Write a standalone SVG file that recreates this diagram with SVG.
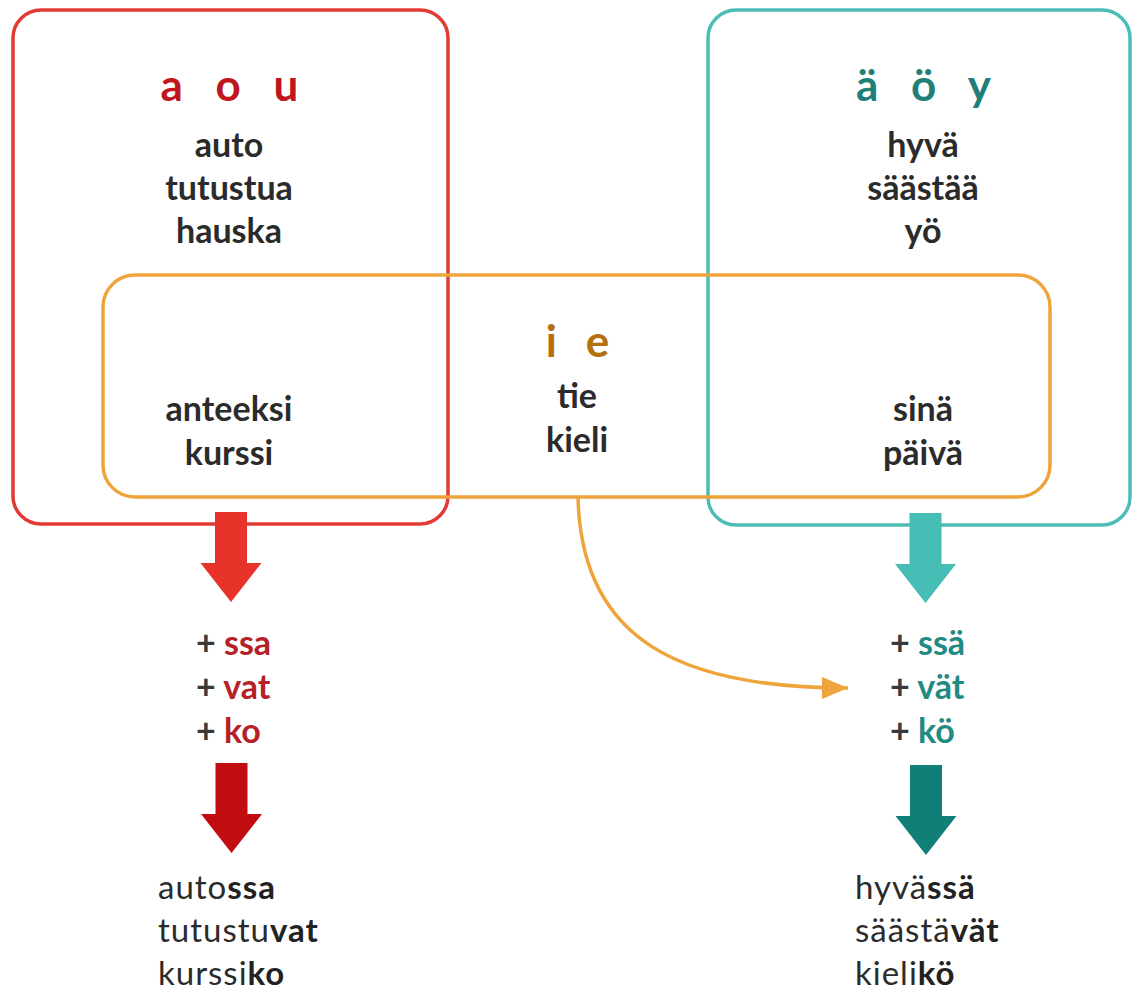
<svg xmlns="http://www.w3.org/2000/svg" width="1134" height="995" viewBox="0 0 1134 995">
<style>
  .box { fill: none; stroke-width: 3.5; }
  .red { stroke: #e23b35; }
  .teal { stroke: #4bbdb6; }
  .orange { stroke: #eea43a; }
  .hdr { font-family: Lato, "Open Sans", sans-serif; font-weight: 700; font-size: 44px; letter-spacing: 11px; text-anchor: middle; }
  .word { font-family: Lato, "Open Sans", sans-serif; font-weight: 700; font-size: 34px; fill: #2b2b2b; text-anchor: middle; }
  .suf { font-family: Lato, "Open Sans", sans-serif; font-weight: 700; font-size: 34px; fill: #3a3a3a; }
  .sr { fill: #b52127; }
  .st { fill: #238a83; }
  .res { font-family: Lato, "Open Sans", sans-serif; font-weight: 400; font-size: 33px; fill: #2b2b2b; letter-spacing: 1px; }
  .b { font-weight: 700; fill: #222222; }
  .conn { fill: none; stroke: #eea43a; stroke-width: 3.5; }
</style>
<defs>
  <path id="bigArrow" d="M -16 0 H 16 V 51 H 30.5 L 0 90 L -30.5 51 H -16 Z"/>
  <marker id="oHead" markerUnits="userSpaceOnUse" markerWidth="30" markerHeight="24" refX="26" refY="11" orient="auto">
    <path d="M 0 0 L 26 11 L 0 22 Z" fill="#eea43a"/>
  </marker>
</defs>

<g id="node-aou">
  <rect class="box red" x="13" y="10" width="435" height="514" rx="28" ry="28"/>
  <text class="hdr" x="235" y="101" fill="#c0161c">a o u</text>
  <text class="word" x="229" y="157">auto</text>
  <text class="word" x="229" y="200">tutustua</text>
  <text class="word" x="229" y="243">hauska</text>
  <text class="word" x="229" y="421">anteeksi</text>
  <text class="word" x="229" y="465">kurssi</text>
</g>

<g id="node-aoy">
  <rect class="box teal" x="708" y="10" width="422" height="515" rx="28" ry="28"/>
  <text class="hdr" x="929" y="101" fill="#1e8078">ä ö y</text>
  <text class="word" x="923" y="157">hyvä</text>
  <text class="word" x="923" y="200">säästää</text>
  <text class="word" x="923" y="243">yö</text>
  <text class="word" x="923" y="421">sinä</text>
  <text class="word" x="923" y="465">päivä</text>
</g>

<g id="node-ie">
  <rect class="box orange" x="103" y="275" width="947" height="222" rx="32" ry="32"/>
  <text class="hdr" x="582" y="357" fill="#b3700c" style="letter-spacing:9px">i e</text>
  <text class="word" x="577" y="408">tie</text>
  <text class="word" x="577" y="452">kieli</text>
</g>

<g id="node-back-suffixes">
  <text class="suf" x="196" y="655">+ <tspan class="sr">ssa</tspan></text>
  <text class="suf" x="196" y="699">+ <tspan class="sr">vat</tspan></text>
  <text class="suf" x="196" y="743">+ <tspan class="sr">ko</tspan></text>
</g>

<g id="node-front-suffixes">
  <text class="suf" x="890" y="655">+ <tspan class="st">ssä</tspan></text>
  <text class="suf" x="890" y="699">+ <tspan class="st">vät</tspan></text>
  <text class="suf" x="890" y="743">+ <tspan class="st">kö</tspan></text>
</g>

<g id="node-back-results">
  <text class="res" x="158" y="899">auto<tspan class="b">ssa</tspan></text>
  <text class="res" x="158" y="942">tutustu<tspan class="b">vat</tspan></text>
  <text class="res" x="158" y="985">kurssi<tspan class="b">ko</tspan></text>
</g>

<g id="node-front-results">
  <text class="res" x="855" y="899">hyvä<tspan class="b">ssä</tspan></text>
  <text class="res" x="855" y="942">säästä<tspan class="b">vät</tspan></text>
  <text class="res" x="855" y="985">kieli<tspan class="b">kö</tspan></text>
</g>

<g id="connectors">
  <use href="#bigArrow" x="231" y="512" fill="#e8332b"/>
  <use href="#bigArrow" x="231.5" y="763" fill="#c20d10"/>
  <use href="#bigArrow" x="925.5" y="513" fill="#46bdb5"/>
  <use href="#bigArrow" x="926" y="765" fill="#107f78"/>
  <path class="conn" d="M 578 497 C 581 640 680 688 848 688" marker-end="url(#oHead)"/>
</g>
</svg>
